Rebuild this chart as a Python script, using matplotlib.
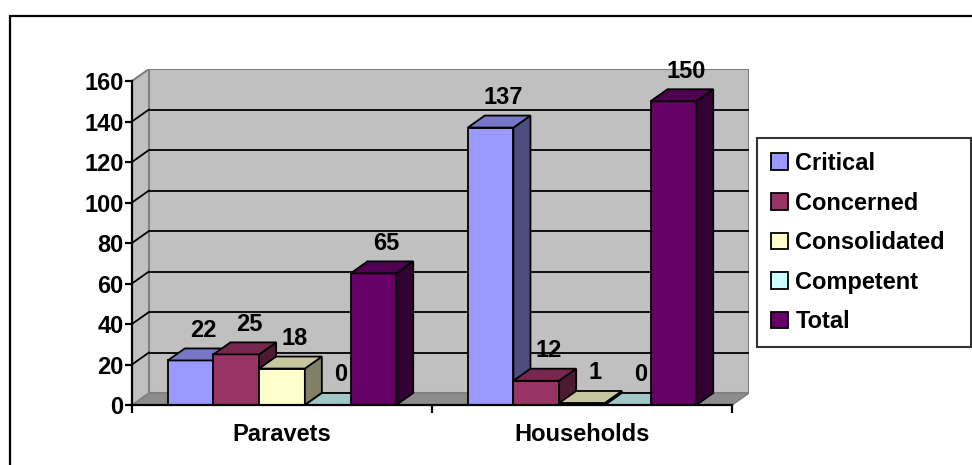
import numpy as np
import matplotlib.pyplot as plt
from matplotlib.patches import Polygon, Rectangle, Patch
from matplotlib.colors import to_rgb

plt.rcParams['font.family'] = ['Liberation Sans', 'DejaVu Sans']
plt.rcParams['font.weight'] = 'bold'

# data
categories = ['Paravets', 'Households']
series = ['Critical', 'Concerned', 'Consolidated', 'Competent', 'Total']
critical = [22, 137]
concerned = [25, 12]
consolidated = [18, 1]
competent = [0, 0]
total = [65, 150]
values = [critical, concerned, consolidated, competent, total]
colors = ['#9999FF', '#993366', '#FFFFCC', '#CCFFFF', '#660066']

ymax = 160
yticks = np.arange(0, 161, 20)

# 3d look: depth offset in data units
dx = 17 / 300
dy = 12 / 2.025
w = 0.1523
gap = (1 - 5 * w) / 2
fs = 17


def shade(c, f):
    return tuple(v * f for v in to_rgb(c))


fig = plt.figure(figsize=(9.72, 4.65), dpi=100)
ax = fig.add_axes([132 / 972, 60 / 465, 617 / 972, 336 / 465])
ax.set_xlim(0, 2 + dx)
ax.set_ylim(0, ymax + dy)
ax.patch.set_visible(False)

# walls and floor
wall = '#C0C0C0'
edge = '#808080'
ax.add_patch(Polygon([(0, 0), (2, 0), (2 + dx, dy), (dx, dy)], closed=True,
                     fc='#8C8C8C', ec=edge, lw=1.2, zorder=1))
ax.add_patch(Polygon([(0, 0), (0, ymax), (dx, ymax + dy), (dx, dy)], closed=True,
                     fc=wall, ec=edge, lw=1.2, zorder=1))
ax.add_patch(Rectangle((dx, dy), 2, ymax, fc=wall, ec=edge, lw=1.5, zorder=1))
for t in yticks[1:-1]:
    ax.plot([dx, 2 + dx], [t + dy, t + dy], color='black', lw=1.3, zorder=2)
    ax.plot([0, dx], [t, t + dy], color='black', lw=1.3, zorder=2)
ax.plot([0, dx], [ymax, ymax + dy], color=edge, lw=1.3, zorder=2)

# bars
z = 3
for g in range(len(categories)):
    for i, name in enumerate(series):
        v = values[i][g]
        x0 = g + gap + i * w
        c = colors[i]
        ax.add_patch(Rectangle((x0, 0), w, v, fc=c, ec='black', lw=1.3, zorder=z))
        ax.add_patch(Polygon([(x0 + w, 0), (x0 + w + dx, dy), (x0 + w + dx, v + dy), (x0 + w, v)],
                             closed=True, fc=shade(c, 0.5), ec='black', lw=1.3, zorder=z))
        ax.add_patch(Polygon([(x0, v), (x0 + w, v), (x0 + w + dx, v + dy), (x0 + dx, v + dy)],
                             closed=True, fc=shade(c, 0.78), ec='black', lw=1.3, zorder=z))
        ax.annotate(str(v), (x0 + w / 2 + 0.75 * dx, v + dy), xytext=(0, 13),
                    textcoords='offset points', ha='center', va='center',
                    fontsize=fs, fontweight='bold', zorder=20)
        z += 1

# axes
for s in ['top', 'right']:
    ax.spines[s].set_visible(False)
ax.spines['left'].set_bounds(0, ymax)
ax.spines['bottom'].set_bounds(0, 2)
ax.spines['left'].set_linewidth(1.6)
ax.spines['bottom'].set_linewidth(1.6)
ax.spines['left'].set_zorder(30)
ax.spines['bottom'].set_zorder(30)
ax.set_yticks(yticks)
ax.set_yticklabels([str(t) for t in yticks], fontsize=fs, fontweight='bold')
ax.tick_params(axis='y', length=5, width=1.6, pad=1)
ax.set_xticks([0, 1, 2])
ax.set_xticklabels(['', '', ''])
ax.tick_params(axis='x', which='major', length=6, width=1.6)
ax.set_xticks([0.5, 1.5], minor=True)
ax.set_xticklabels(categories, minor=True, fontsize=fs, fontweight='bold')
ax.tick_params(axis='x', which='minor', length=0, pad=13)

# legend
handles = [Patch(fc=c, ec='black', lw=1.3) for c in colors]
leg = fig.legend(handles, series, loc='upper left',
                 bbox_to_anchor=(757 / 972, (465 - 348) / 465, 214 / 972, 210 / 465),
                 mode='expand', borderaxespad=0, frameon=True, fancybox=False,
                 prop={'size': fs, 'weight': 'bold'},
                 handlelength=0.72, handleheight=0.72, handletextpad=0.3, labelspacing=0.7,
                 borderpad=0.6)
leg.get_frame().set_edgecolor('black')
leg.get_frame().set_linewidth(1.5)

# outer border
fig.add_artist(Rectangle((10 / 972, -0.1), 2, (465 - 16) / 465 + 0.1, transform=fig.transFigure,
                         fill=False, ec='black', lw=1.6))

fig.savefig('out.png', dpi=100)
